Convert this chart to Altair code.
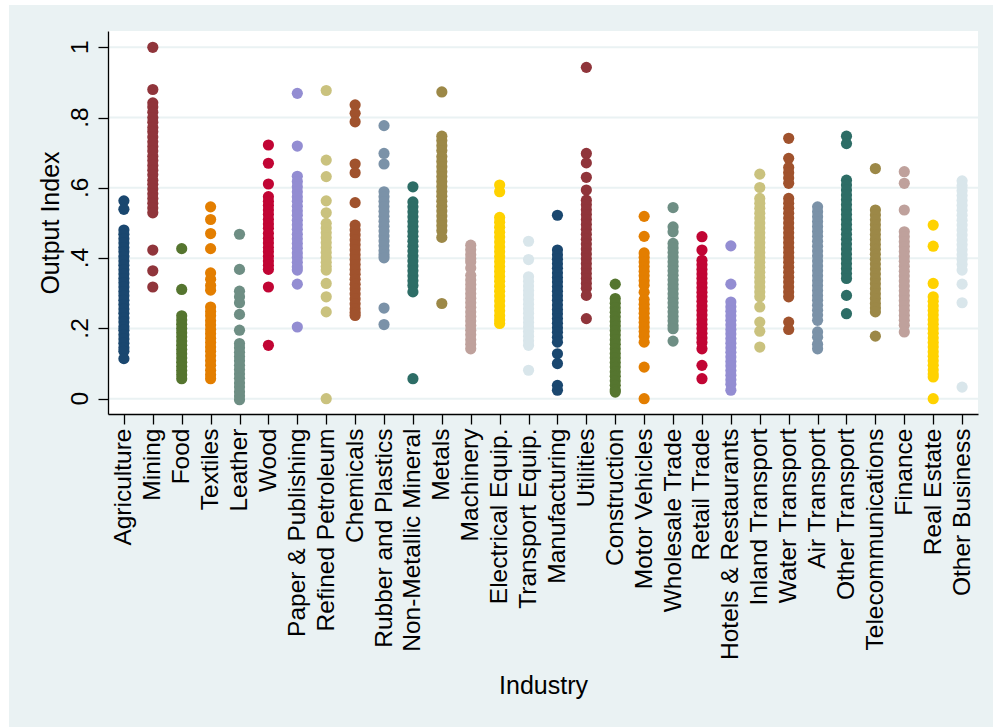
import altair as alt
import pandas as pd

# Industry order along the x axis
industries = [
    "Agriculture", "Mining", "Food", "Textiles", "Leather", "Wood",
    "Paper & Publishing", "Refined Petroleum", "Chemicals", "Rubber and Plastics",
    "Non-Metallic Mineral", "Metals", "Machinery", "Electrical Equip.",
    "Transport Equip.", "Manufacturing", "Utilities", "Construction",
    "Motor Vehicles", "Wholesale Trade", "Retail Trade", "Hotels & Restaurants",
    "Inland Transport", "Water Transport", "Air Transport", "Other Transport",
    "Telecommunications", "Finance", "Real Estate", "Other Business",
]

# Output index observations per industry
agriculture = [0.563, 0.539, 0.480, 0.468, 0.455, 0.443, 0.430, 0.418, 0.405, 0.392, 0.380,
               0.367, 0.355, 0.342, 0.330, 0.318, 0.305, 0.293, 0.280, 0.268, 0.255, 0.243,
               0.230, 0.218, 0.205, 0.195, 0.182, 0.170, 0.158, 0.145, 0.135, 0.114]
mining = [1.0, 0.880, 0.842, 0.830, 0.815, 0.800, 0.787, 0.772, 0.760, 0.745, 0.731, 0.718,
          0.705, 0.690, 0.678, 0.664, 0.650, 0.637, 0.622, 0.610, 0.597, 0.583, 0.570, 0.556,
          0.543, 0.529, 0.423, 0.364, 0.318]
food = [0.427, 0.311, 0.236, 0.224, 0.212, 0.200, 0.188, 0.176, 0.164, 0.152, 0.140, 0.128,
        0.116, 0.104, 0.092, 0.080, 0.068, 0.057]
textiles = [0.546, 0.510, 0.470, 0.427, 0.358, 0.340, 0.322, 0.309, 0.261, 0.248, 0.236,
            0.222, 0.210, 0.197, 0.185, 0.172, 0.160, 0.147, 0.135, 0.122, 0.108, 0.095,
            0.081, 0.068, 0.057]
leather = [0.468, 0.368, 0.306, 0.290, 0.273, 0.240, 0.195, 0.157, 0.145, 0.132, 0.120,
           0.108, 0.095, 0.083, 0.070, 0.058, 0.045, 0.033, 0.020, 0.008, -0.003]
wood = [0.722, 0.670, 0.611, 0.575, 0.562, 0.550, 0.537, 0.524, 0.510, 0.497, 0.485, 0.470,
        0.456, 0.443, 0.430, 0.418, 0.405, 0.392, 0.380, 0.368, 0.318, 0.152]
paper = [0.869, 0.719, 0.633, 0.618, 0.603, 0.589, 0.575, 0.562, 0.548, 0.535, 0.522, 0.508,
         0.495, 0.482, 0.468, 0.455, 0.442, 0.428, 0.415, 0.402, 0.388, 0.375, 0.366, 0.326,
         0.204]
petroleum = [0.877, 0.679, 0.632, 0.563, 0.529, 0.499, 0.486, 0.472, 0.458, 0.444, 0.430,
             0.416, 0.402, 0.388, 0.376, 0.366, 0.328, 0.290, 0.247, 0.0]
chemicals = [0.836, 0.812, 0.788, 0.668, 0.643, 0.558, 0.494, 0.480, 0.466, 0.452, 0.438,
             0.424, 0.410, 0.396, 0.382, 0.368, 0.354, 0.340, 0.326, 0.312, 0.298, 0.284,
             0.270, 0.256, 0.245, 0.237]
rubber = [0.777, 0.698, 0.668, 0.589, 0.575, 0.561, 0.547, 0.533, 0.519, 0.505, 0.491, 0.477,
          0.463, 0.449, 0.435, 0.421, 0.410, 0.401, 0.258, 0.211]
nonmetal = [0.603, 0.560, 0.546, 0.532, 0.518, 0.504, 0.490, 0.476, 0.462, 0.448, 0.434,
            0.420, 0.406, 0.392, 0.378, 0.364, 0.350, 0.336, 0.322, 0.304, 0.057]
metals = [0.873, 0.747, 0.735, 0.720, 0.706, 0.689, 0.675, 0.660, 0.646, 0.632, 0.618, 0.604,
          0.590, 0.576, 0.562, 0.548, 0.534, 0.520, 0.506, 0.492, 0.478, 0.459, 0.271]
machinery = [0.437, 0.424, 0.410, 0.398, 0.389, 0.372, 0.351, 0.338, 0.325, 0.312, 0.299,
             0.286, 0.273, 0.260, 0.247, 0.234, 0.221, 0.208, 0.195, 0.182, 0.168, 0.155,
             0.142]
electrical = [0.608, 0.589, 0.516, 0.502, 0.488, 0.474, 0.460, 0.446, 0.432, 0.418, 0.404,
              0.390, 0.376, 0.362, 0.348, 0.334, 0.320, 0.306, 0.292, 0.278, 0.264, 0.250,
              0.236, 0.224, 0.214]
transport_equip = [0.448, 0.396, 0.347, 0.334, 0.321, 0.308, 0.295, 0.282, 0.269, 0.256,
                   0.243, 0.230, 0.217, 0.204, 0.191, 0.178, 0.165, 0.152, 0.081]
manufacturing = [0.522, 0.423, 0.410, 0.397, 0.384, 0.371, 0.358, 0.345, 0.332, 0.319, 0.306,
                 0.293, 0.280, 0.267, 0.254, 0.241, 0.228, 0.215, 0.202, 0.189, 0.175, 0.161,
                 0.128, 0.100, 0.038, 0.024]
utilities = [0.943, 0.698, 0.671, 0.630, 0.594, 0.565, 0.552, 0.538, 0.524, 0.510, 0.496,
             0.482, 0.468, 0.454, 0.440, 0.426, 0.412, 0.398, 0.384, 0.370, 0.356, 0.342,
             0.328, 0.314, 0.294, 0.228]
construction = [0.326, 0.285, 0.272, 0.259, 0.246, 0.233, 0.220, 0.207, 0.194, 0.181, 0.168,
                0.155, 0.142, 0.129, 0.116, 0.103, 0.090, 0.077, 0.064, 0.051, 0.038, 0.025,
                0.019]
motor_vehicles = [0.519, 0.462, 0.415, 0.402, 0.389, 0.376, 0.363, 0.350, 0.336, 0.323, 0.303,
                  0.282, 0.269, 0.256, 0.243, 0.230, 0.217, 0.204, 0.191, 0.178, 0.161, 0.090,
                  0.0]
wholesale = [0.544, 0.489, 0.475, 0.442, 0.429, 0.416, 0.403, 0.390, 0.377, 0.364, 0.351,
             0.338, 0.325, 0.312, 0.299, 0.286, 0.273, 0.260, 0.247, 0.234, 0.221, 0.208,
             0.199, 0.164]
retail = [0.461, 0.423, 0.394, 0.381, 0.368, 0.355, 0.342, 0.329, 0.316, 0.303, 0.290, 0.277,
          0.264, 0.251, 0.238, 0.225, 0.212, 0.199, 0.186, 0.173, 0.160, 0.142, 0.095, 0.057]
hotels = [0.435, 0.326, 0.275, 0.262, 0.249, 0.236, 0.223, 0.210, 0.197, 0.184, 0.171, 0.158,
          0.145, 0.132, 0.119, 0.106, 0.093, 0.080, 0.067, 0.054, 0.041, 0.024]
inland_transport = [0.639, 0.601, 0.570, 0.556, 0.542, 0.528, 0.514, 0.500, 0.486, 0.472,
                    0.458, 0.444, 0.430, 0.416, 0.402, 0.388, 0.374, 0.360, 0.346, 0.332,
                    0.318, 0.304, 0.290, 0.261, 0.218, 0.192, 0.147]
water_transport = [0.741, 0.684, 0.658, 0.643, 0.628, 0.613, 0.570, 0.556, 0.542, 0.528,
                   0.514, 0.500, 0.486, 0.472, 0.458, 0.444, 0.430, 0.416, 0.402, 0.388,
                   0.374, 0.360, 0.346, 0.332, 0.318, 0.304, 0.290, 0.218, 0.197]
air_transport = [0.546, 0.532, 0.518, 0.504, 0.490, 0.476, 0.462, 0.448, 0.434, 0.420, 0.406,
                 0.392, 0.378, 0.364, 0.350, 0.336, 0.322, 0.308, 0.294, 0.280, 0.266, 0.252,
                 0.238, 0.223, 0.190, 0.175, 0.155, 0.142]
other_transport = [0.747, 0.726, 0.622, 0.608, 0.594, 0.580, 0.566, 0.552, 0.538, 0.524,
                   0.510, 0.496, 0.482, 0.468, 0.454, 0.440, 0.426, 0.412, 0.398, 0.384,
                   0.370, 0.356, 0.342, 0.294, 0.242]
telecom = [0.655, 0.537, 0.523, 0.509, 0.495, 0.481, 0.467, 0.453, 0.439, 0.425, 0.411, 0.397,
           0.383, 0.369, 0.355, 0.341, 0.327, 0.313, 0.299, 0.285, 0.271, 0.258, 0.247, 0.178]
finance = [0.646, 0.613, 0.537, 0.475, 0.461, 0.447, 0.433, 0.419, 0.405, 0.391, 0.377,
           0.363, 0.349, 0.335, 0.321, 0.307, 0.293, 0.279, 0.265, 0.251, 0.237, 0.223,
           0.209, 0.190]
real_estate = [0.494, 0.434, 0.328, 0.290, 0.277, 0.264, 0.251, 0.238, 0.225, 0.212, 0.199,
               0.186, 0.173, 0.160, 0.147, 0.134, 0.121, 0.108, 0.095, 0.082, 0.070, 0.062,
               0.0]
other_business = [0.620, 0.606, 0.592, 0.578, 0.564, 0.550, 0.536, 0.522, 0.508, 0.494,
                  0.480, 0.466, 0.452, 0.438, 0.424, 0.410, 0.396, 0.382, 0.366, 0.326,
                  0.273, 0.033]

series = [
    agriculture, mining, food, textiles, leather, wood, paper, petroleum, chemicals,
    rubber, nonmetal, metals, machinery, electrical, transport_equip, manufacturing,
    utilities, construction, motor_vehicles, wholesale, retail, hotels, inland_transport,
    water_transport, air_transport, other_transport, telecom, finance, real_estate,
    other_business,
]

# Stata s2color marker palette, cycled across the 30 industries
palette = ["#1a476f", "#90353b", "#55752f", "#e37e00", "#6e8e84", "#c10534", "#938dd2",
           "#cac27e", "#a0522d", "#7b92a8", "#2d6d66", "#9c8847", "#bfa19c", "#ffd200",
           "#d9e6eb"]
colors = [palette[i % len(palette)] for i in range(len(industries))]

# y ticks and their Stata-style labels
y_ticks = [0, 0.2, 0.4, 0.6, 0.8, 1.0]
y_tick_labels = ["0", ".2", ".4", ".6", ".8", "1"]

rows = [{"industry": name, "output": v} for name, vals in zip(industries, series) for v in vals]
df = pd.DataFrame(rows)
ticks_df = pd.DataFrame({"output": y_ticks, "label": y_tick_labels})

W, H = 870, 383
FONT = "Liberation Sans"
REGION = "#EAF2F3"

y_scale = alt.Scale(domain=[-0.0435, 1.0464], nice=False, zero=False)
x_scale = alt.Scale(type="point", padding=0.55)

y_axis = alt.Axis(
    title="Output Index",
    values=y_ticks,
    labels=False,
    tickSize=10,
    grid=False,
    titleX=-50,
    titleBaseline="alphabetic",
    zindex=1,
)

x_axis = alt.Axis(
    title="Industry",
    labelAngle=270,
    labelAlign="right",
    labelBaseline="middle",
    labelPadding=4,
    labelLimit=0,
    labelOverlap=False,
    tickSize=10,
    titleY=279,
    titleBaseline="alphabetic",
    zindex=1,
)

# Graph region (light) and plot region (white)
graph_region = alt.Chart(pd.DataFrame({"k": [0]})).mark_rect(color=REGION).encode(
    x=alt.value(-99), x2=alt.value(890), y=alt.value(-26), y2=alt.value(700)
)
plot_region = alt.Chart(pd.DataFrame({"k": [0]})).mark_rect(color="white").encode(
    x=alt.value(0), x2=alt.value(W), y=alt.value(0), y2=alt.value(H)
)

grid = alt.Chart(ticks_df).mark_rule(color=REGION, strokeWidth=2).encode(
    y=alt.Y("output:Q", scale=y_scale, axis=y_axis),
    x=alt.value(0),
    x2=alt.value(W),
)

# Vertical tick labels left of the y axis
y_labels = alt.Chart(ticks_df).mark_text(
    angle=270, align="center", baseline="alphabetic", font=FONT, fontSize=24.5, color="#000000"
).encode(
    y=alt.Y("output:Q", scale=y_scale, axis=y_axis),
    x=alt.value(-20),
    text="label:N",
)

points = alt.Chart(df).mark_circle(size=125, opacity=1).encode(
    x=alt.X("industry:N", sort=industries, scale=x_scale, axis=x_axis),
    y=alt.Y("output:Q", scale=y_scale, axis=y_axis),
    color=alt.Color("industry:N", scale=alt.Scale(domain=industries, range=colors), legend=None),
)

chart = alt.layer(graph_region, plot_region, grid, y_labels, points).properties(
    width=W,
    height=H,
    autosize=alt.AutoSizeParams(type="none"),
    padding={"left": 108, "top": 31, "right": 15, "bottom": 313},
    background="white",
).configure_view(
    stroke=None,
).configure_axis(
    labelFont=FONT,
    titleFont=FONT,
    labelFontSize=24.5,
    titleFontSize=25,
    titleFontWeight="normal",
    labelColor="#000000",
    titleColor="#000000",
    domainColor="#000000",
    tickColor="#000000",
    domainWidth=1.3,
    tickWidth=1.3,
    grid=False,
)

chart.save("out.html", embed_options={"renderer": "svg", "actions": False})
